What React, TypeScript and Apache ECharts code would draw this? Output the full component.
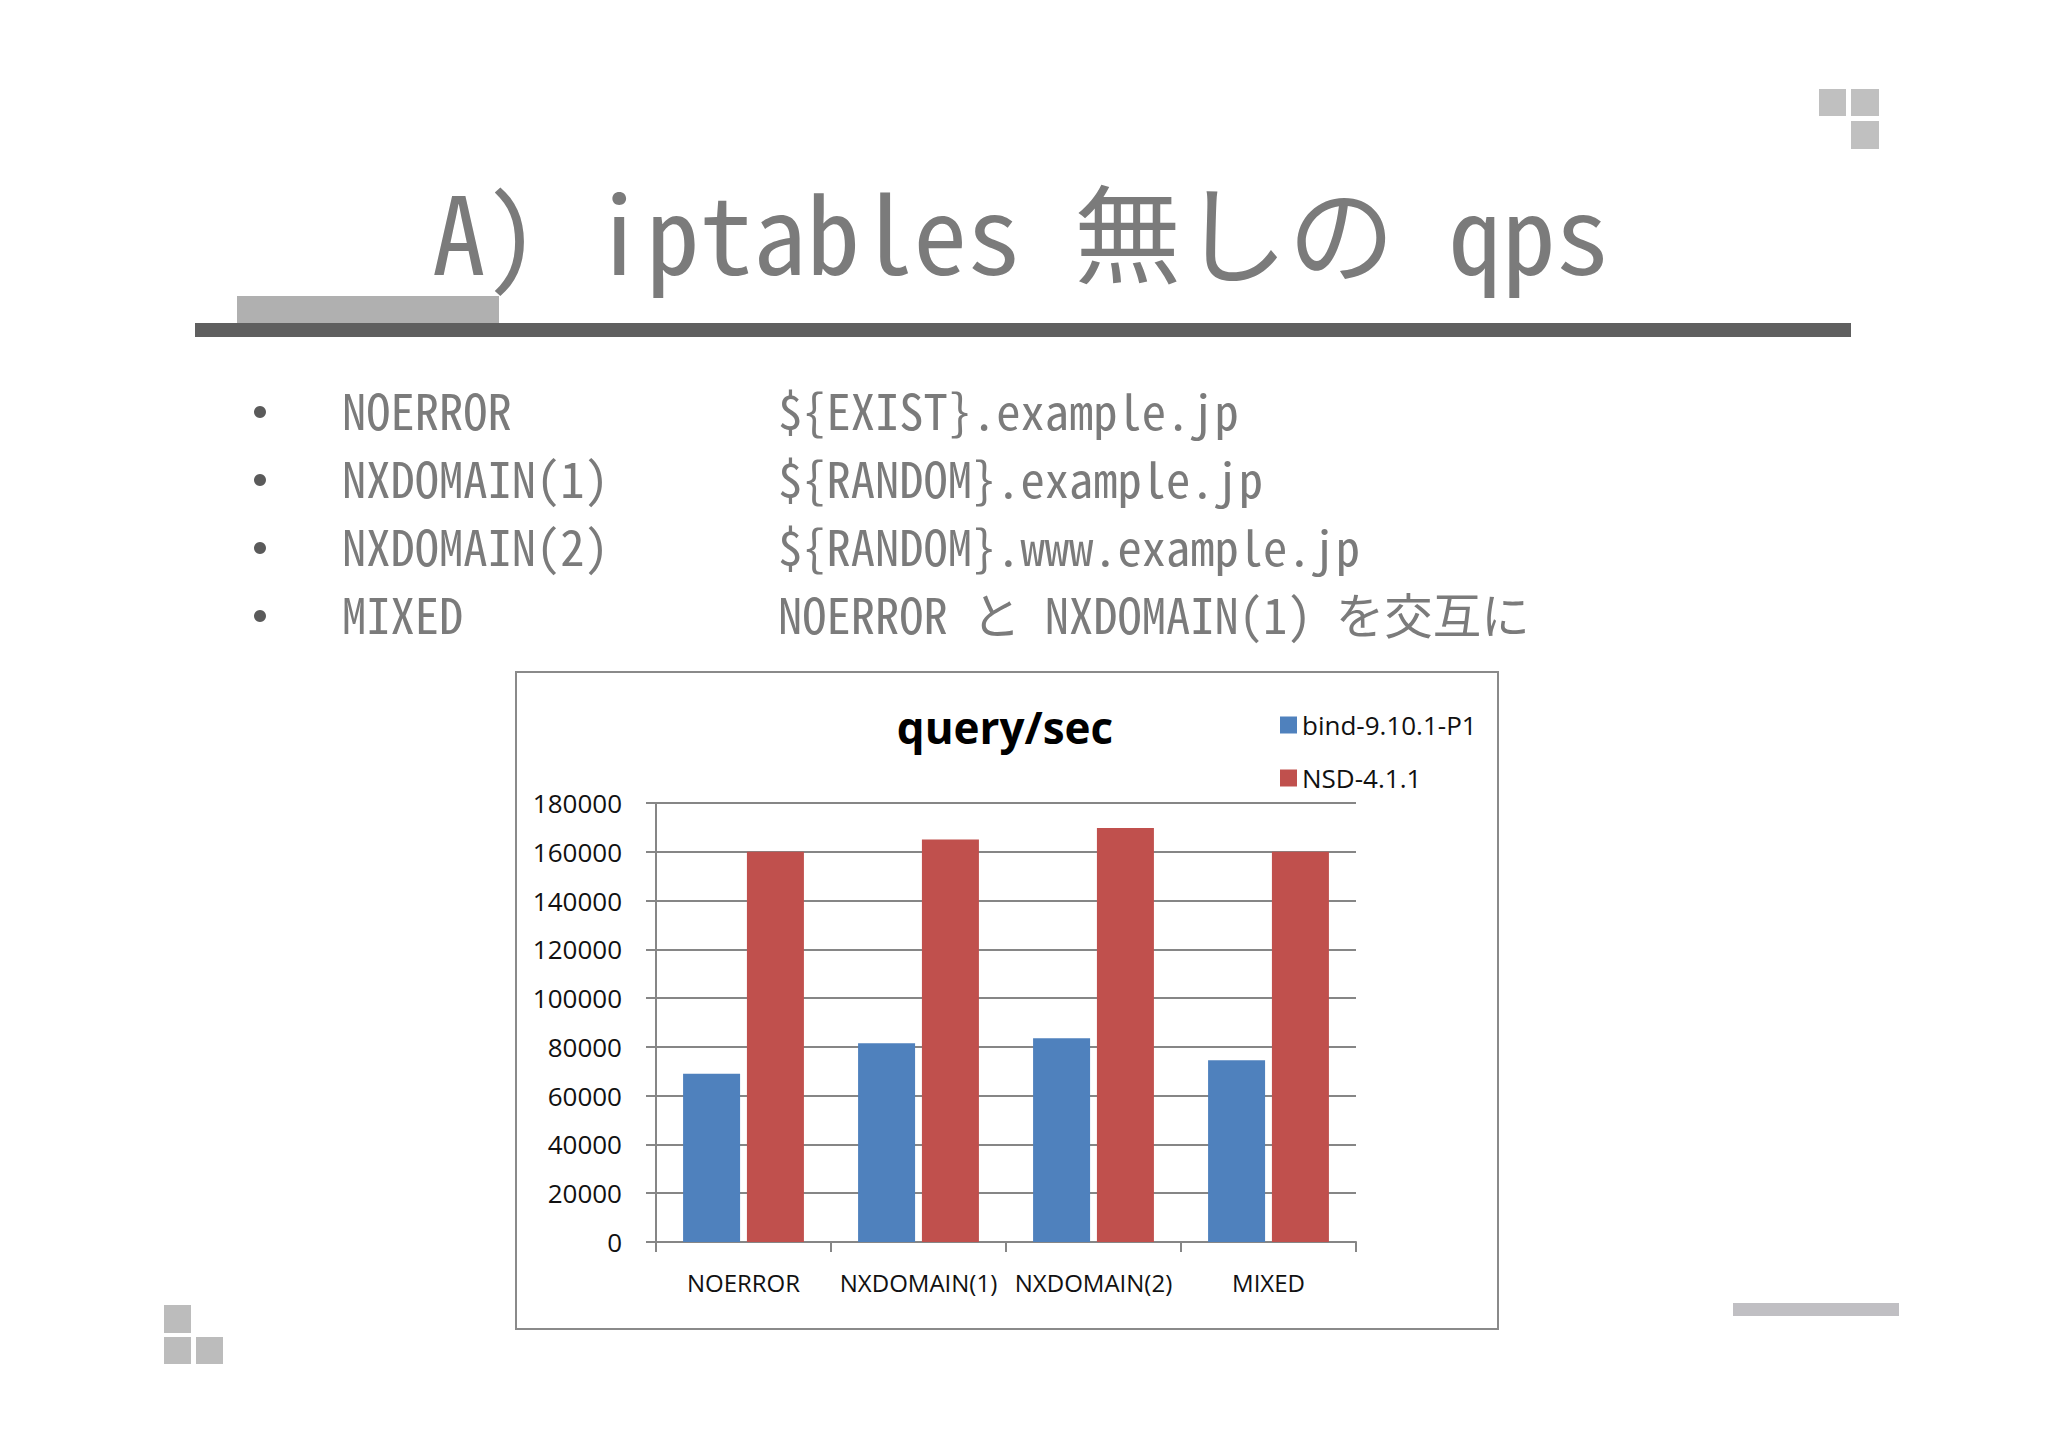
import React, { useEffect, useRef } from "react";
import * as echarts from "echarts";

const categories = ["NOERROR", "NXDOMAIN(1)", "NXDOMAIN(2)", "MIXED"];
const bindValues = [69000, 81500, 83500, 74500];
const nsdValues = [160000, 165000, 169700, 160000];
const seriesNames = ["bind-9.10.1-P1", "NSD-4.1.1"];
const chartTitle = "query/sec";
const slideTitle = "A) iptables 無しの qps";
const bulletLeft = ["NOERROR", "NXDOMAIN(1)", "NXDOMAIN(2)", "MIXED"];
const bulletRight = [
  "${EXIST}.example.jp",
  "${RANDOM}.example.jp",
  "${RANDOM}.www.example.jp",
  "NOERROR と NXDOMAIN(1) を交互に",
];

const MONO = "'Noto Sans Mono CJK JP', 'Noto Sans CJK JP', 'DejaVu Sans Mono', monospace";
const SANS = "'Open Sans', 'Noto Sans', sans-serif";

export default function App() {
  const ref = useRef<HTMLDivElement>(null);
  useEffect(() => {
    document.body.style.margin = "0";
    const chart = echarts.init(ref.current!, null, { renderer: "svg" });
    const gray = "#c0c0c0";
    const graphics: any[] = [
      // top-right squares
      { type: "rect", shape: { x: 1819, y: 89, width: 27, height: 27 }, style: { fill: gray } },
      { type: "rect", shape: { x: 1851, y: 89, width: 28, height: 27 }, style: { fill: gray } },
      { type: "rect", shape: { x: 1851, y: 121, width: 28, height: 28 }, style: { fill: gray } },
      // bottom-left squares
      { type: "rect", shape: { x: 164, y: 1305, width: 27, height: 28 }, style: { fill: "#bcbcbc" } },
      { type: "rect", shape: { x: 164, y: 1337, width: 27, height: 27 }, style: { fill: "#bcbcbc" } },
      { type: "rect", shape: { x: 196, y: 1337, width: 27, height: 27 }, style: { fill: "#bcbcbc" } },
      // bottom-right bar
      { type: "rect", shape: { x: 1733, y: 1303, width: 166, height: 13 }, style: { fill: "#c0bfc3" } },
      // title underline
      { type: "rect", shape: { x: 237, y: 296, width: 262, height: 28 }, style: { fill: "#b0b0b0" } },
      { type: "rect", shape: { x: 195, y: 323, width: 1656, height: 14 }, style: { fill: "#5f5f5f" } },
      // slide title
      {
        type: "text",
        x: 432,
        y: 228,
        style: {
          text: slideTitle,
          fill: "#7b7b7b",
          font: `107px ${MONO}`,
          align: "left",
          verticalAlign: "middle",
        },
      },
      // chart frame
      {
        type: "rect",
        shape: { x: 516, y: 672, width: 982, height: 657 },
        style: { fill: "none", stroke: "#8a8a8a", lineWidth: 2 },
        z: -1,
      },
      // chart title
      {
        type: "text",
        x: 1005,
        y: 727,
        style: {
          text: chartTitle,
          fill: "#000",
          font: `bold 44px ${SANS}`,
          align: "center",
          verticalAlign: "middle",
        },
      },
    ];
    bulletLeft.forEach((t, i) => {
      const y = 409 + i * 68;
      graphics.push({ type: "circle", shape: { cx: 260, cy: 412 + i * 68, r: 6 }, style: { fill: "#5a5a5a" } });
      graphics.push({
        type: "text",
        x: 342,
        y,
        style: { text: t, fill: "#7b7b7b", font: `48.5px ${MONO}`, align: "left", verticalAlign: "middle" },
      });
      graphics.push({
        type: "text",
        x: 778,
        y,
        style: { text: bulletRight[i], fill: "#7b7b7b", font: `48.5px ${MONO}`, align: "left", verticalAlign: "middle" },
      });
    });

    chart.setOption({
      animation: false,
      backgroundColor: "#ffffff",
      graphic: graphics,
      legend: {
        orient: "vertical",
        left: 1275,
        top: 707,
        itemWidth: 17,
        itemHeight: 17,
        itemGap: 27,
        icon: "rect",
        textStyle: { fontSize: 26, color: "#111", fontFamily: SANS },
        data: seriesNames,
      },
      grid: { left: 656, right: 692, top: 803, bottom: 206, containLabel: false },
      xAxis: {
        type: "category",
        data: categories,
        boundaryGap: true,
        axisLine: { show: true, lineStyle: { color: "#868686", width: 2 } },
        axisTick: { show: true, length: 10, alignWithLabel: false, lineStyle: { color: "#868686", width: 2 } },
        axisLabel: { interval: 0, margin: 28, fontSize: 24, color: "#111", fontFamily: SANS },
      },
      yAxis: {
        type: "value",
        min: 0,
        max: 180000,
        interval: 20000,
        axisLine: { show: true, lineStyle: { color: "#868686", width: 2 } },
        axisTick: { show: true, length: 10, lineStyle: { color: "#868686", width: 2 } },
        axisLabel: {
          margin: 34,
          fontSize: 26,
          color: "#111",
          fontFamily: SANS,
          formatter: (v: number) => String(v),
        },
        splitLine: { show: true, lineStyle: { color: "#868686", width: 2 } },
      },
      series: [
        {
          name: seriesNames[0],
          type: "bar",
          data: bindValues,
          barWidth: 57,
          barGap: "12%",
          itemStyle: { color: "#4f81bd" },
        },
        {
          name: seriesNames[1],
          type: "bar",
          data: nsdValues,
          barWidth: 57,
          itemStyle: { color: "#c0504d" },
        },
      ],
    });
    return () => chart.dispose();
  }, []);
  return (
    <div
      ref={ref}
      style={{ position: "absolute", left: 0, top: 0, width: 2048, height: 1448 }}
    />
  );
}
